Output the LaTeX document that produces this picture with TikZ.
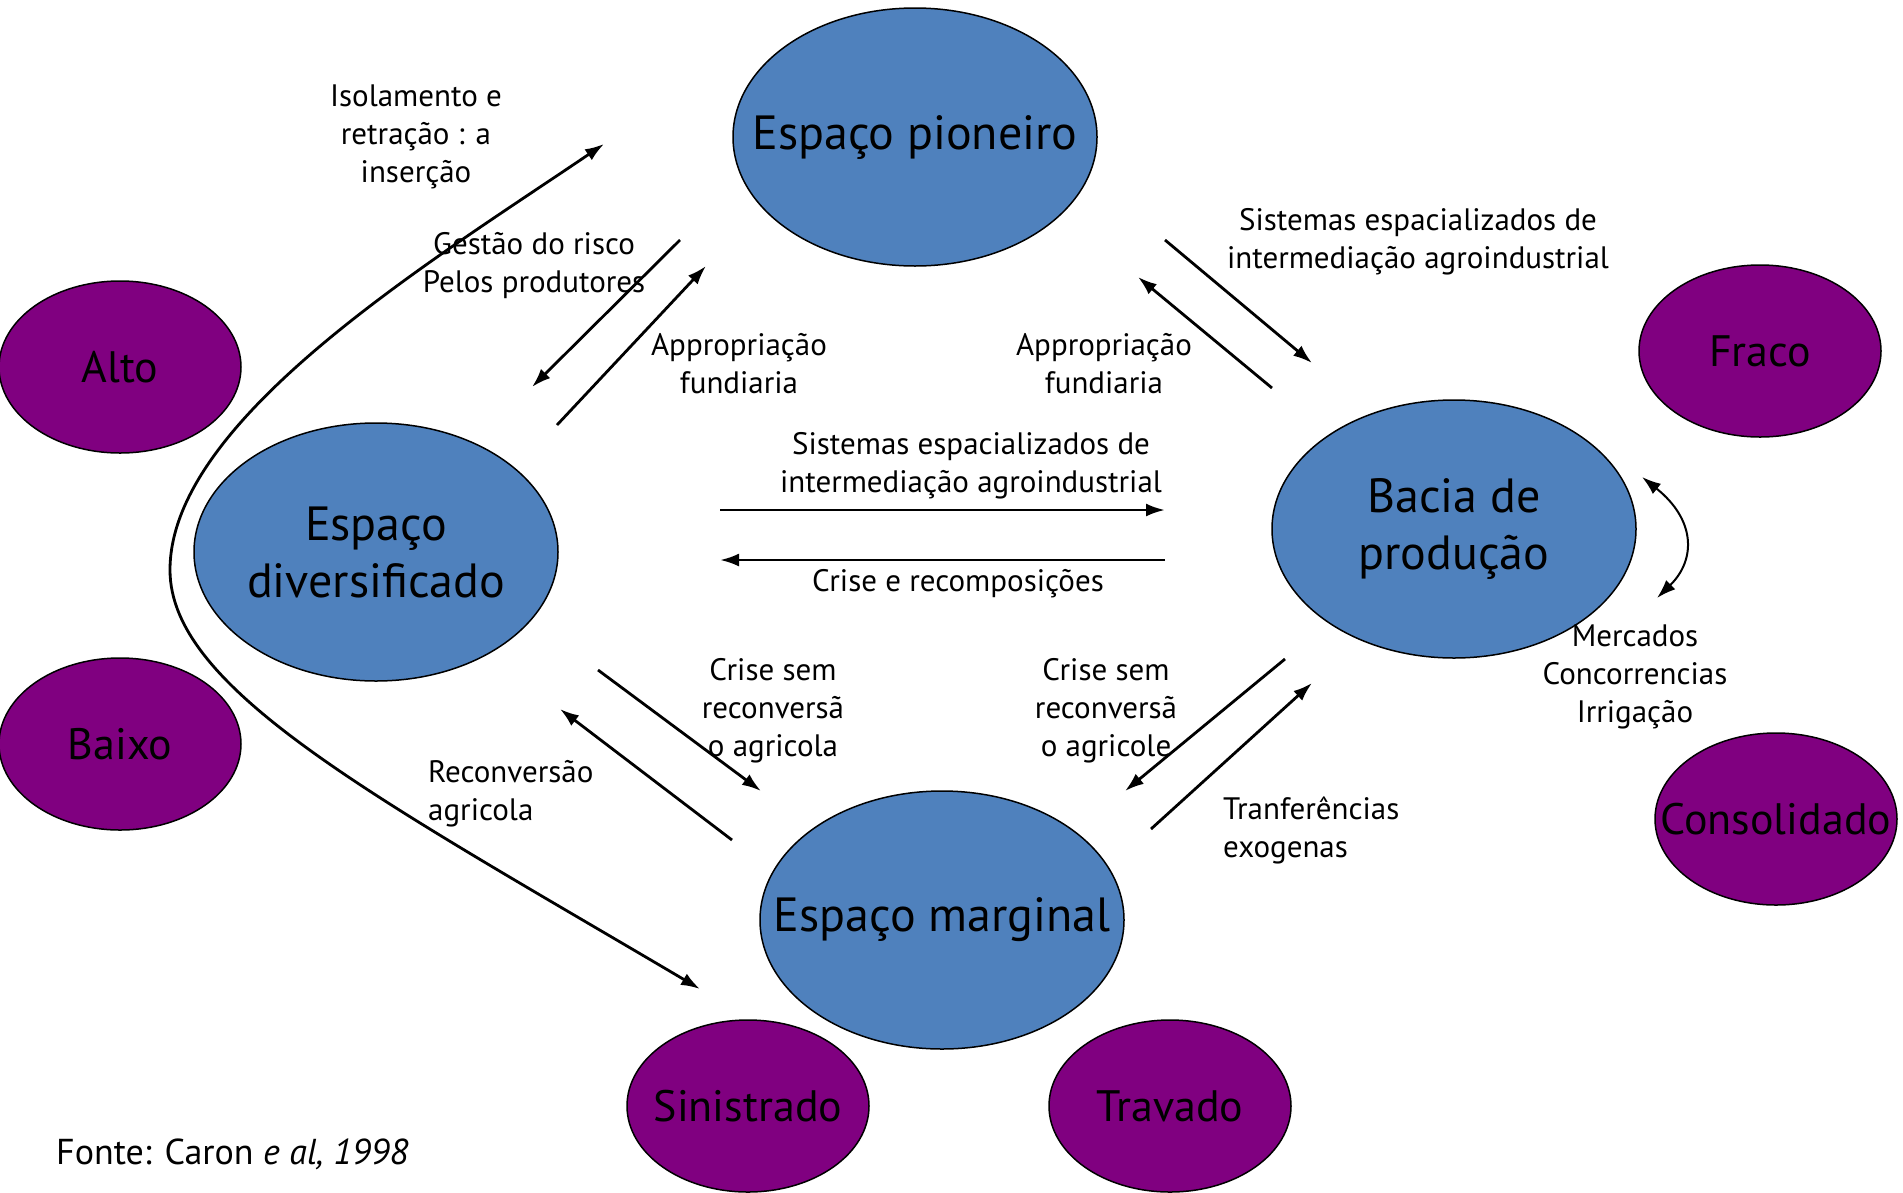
\documentclass[tikz,border=0pt]{standalone}
\usepackage{fontspec}
\setmainfont{PT Sans}
\usetikzlibrary{shapes.geometric,arrows.meta}
\definecolor{zoneblue}{RGB}{79,129,189}
\definecolor{levelpurple}{RGB}{128,0,128}
\tikzset{
    zone/.style = {
        draw, fill=zoneblue, ellipse,
        line width=1.5pt,
        inner sep=0,
        minimum width=364pt,
        minimum height=258pt
    },
    level/.style = {
        draw, fill=levelpurple, ellipse,
        line width=1.5pt,
        inner sep=0,
        minimum width=242pt,
        minimum height=172pt
    },
    zonetext/.style = {
        align=center, inner sep=0,
        font=\fontsize{48}{57}\selectfont
    },
    leveltext/.style = {
        align=center, inner sep=0,
        font=\fontsize{44}{52}\selectfont
    },
    anno/.style = {
        align=center, inner sep=0,
        font=\fontsize{31}{38}\selectfont
    },
    flow/.style = {
        -{Latex[length=19pt,width=13pt]}, line width=2.8pt
    },
    biflow/.style = {
        {Latex[length=19pt,width=13pt]}-{Latex[length=19pt,width=13pt]}, line width=2.8pt
    }
}

\begin{document}
\begin{tikzpicture}[x=1pt,y=-1pt]
\useasboundingbox (0,0) rectangle (1903,1192);

% 1. zones (blue) and levels (purple)
\node[zone] (pioneiro) at (915,137) {};
\node[zone] (diversif) at (376,552) {};
\node[zone] (bacia)    at (1454,529) {};
\node[zone] (marginal) at (942,920) {};
\node[zonetext] (pioneiro-t) at (pioneiro) {Espaço pioneiro};
\node[zonetext] (diversif-t) at (diversif) {Espaço\\ diversificado};
\node[zonetext] (bacia-t)    at (bacia)    {Bacia de\\ produção};
\node[zonetext] (marginal-t) at (marginal) {Espaço marginal};

\node[level] (alto)    at (120,367)  {};
\node[level] (baixo)   at (120,744)  {};
\node[level] (fraco)   at (1760,351) {};
\node[level] (consol)  at (1776,819) {};
\node[level] (sinistr) at (748,1106) {};
\node[level] (travado) at (1170,1106) {};
\node[leveltext] (alto-t)    at (alto)    {Alto};
\node[leveltext] (baixo-t)   at (baixo)   {Baixo};
\node[leveltext] (fraco-t)   at (fraco)   {Fraco};
\node[leveltext] (consol-t)  at (consol)  {Consolidado};
\node[leveltext] (sinistr-t) at (sinistr) {Sinistrado};
\node[leveltext] (travado-t) at (travado) {Travado};

% 2. arrow ends
\coordinate (g1) at (680,240);  \coordinate (g2) at (532,387);
\coordinate (a1) at (557,425);  \coordinate (a2) at (706,266);
\coordinate (s1) at (1165,240); \coordinate (s2) at (1312,363);
\coordinate (b1) at (1272,388); \coordinate (b2) at (1138,277);
\coordinate (h1) at (720,510);  \coordinate (h2) at (1165,510);
\coordinate (h3) at (1165,560); \coordinate (h4) at (720,560);
\coordinate (c1) at (598,670);  \coordinate (c2) at (761,791);
\coordinate (r1) at (732,840);  \coordinate (r2) at (560,709);
\coordinate (d1) at (1285,659); \coordinate (d2) at (1125,791);
\coordinate (t1) at (1151,829); \coordinate (t2) at (1312,683);
\coordinate (l1) at (1642,477); \coordinate (l2) at (1657,598);
\coordinate (u1) at (604,144);  \coordinate (u2) at (170,570);
\coordinate (u3) at (700,989);

% 3. arrows
\draw[flow] (g1) -- (g2);
\draw[flow] (a1) -- (a2);
\draw[flow] (s1) -- (s2);
\draw[flow] (b1) -- (b2);
\draw[flow] (h1) -- (h2);
\draw[flow] (h3) -- (h4);
\draw[flow] (c1) -- (c2);
\draw[flow] (r1) -- (r2);
\draw[flow] (d1) -- (d2);
\draw[flow] (t1) -- (t2);
\draw[biflow,line width=2pt] (l1) .. controls (1696,520) and (1696,560) .. (l2);
\draw[biflow]
  (u1) .. controls (430,262) and (170,420) .. (u2)
       .. controls (170,690) and (380,800) .. (u3);

% 4. labels
\node[anno] (iso)   at (416,137)  {Isolamento e\\ retração : a\\ inserção};
\node[anno] (gest)  at (534,266)  {Gestão do risco\\ Pelos produtores};
\node[anno] (appl)  at (739,364)  {Appropriação\\ fundiaria};
\node[anno] (appr)  at (1104,364) {Appropriação\\ fundiaria};
\node[anno] (sistr) at (1418,242) {Sistemas espacializados de\\ intermediação agroindustrial};
\node[anno] (sistm) at (971,466)  {Sistemas espacializados de\\ intermediação agroindustrial};
\node[anno] (crise) at (958,584)  {Crise e recomposições};
\node[anno] (csl)   at (773,711)  {Crise sem\\ reconversã\\ o agricola};
\node[anno] (csr)   at (1106,711) {Crise sem\\ reconversã\\ o agricole};
\node[anno,align=left,anchor=west] (recon) at (428,794) {Reconversão\\ agricola};
\node[anno,align=left,anchor=west] (tranf) at (1223,830) {Tranferências\\ exogenas};
\node[anno] (merc)  at (1635,677) {Mercados\\ Concorrencias\\ Irrigação};
\node[anno,anchor=west,font=\fontsize{36}{43}\selectfont] (fonte) at (56,1154)
  {Fonte: Caron \textit{e al, 1998}};

\end{tikzpicture}
\end{document}
